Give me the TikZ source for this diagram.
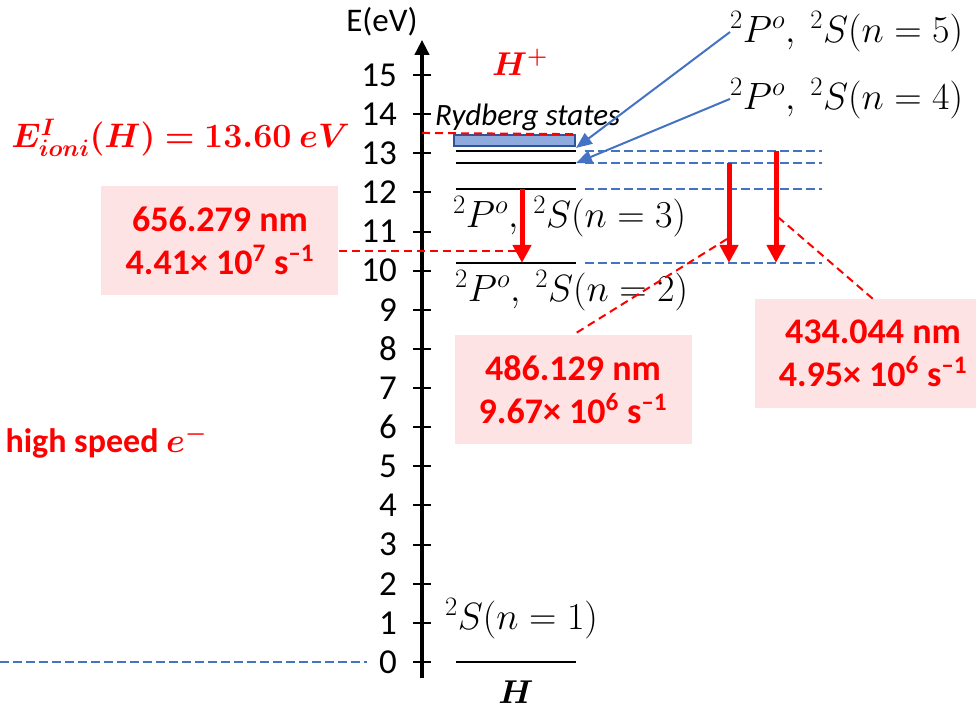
\RequirePackage{fix-cm}
\documentclass[tikz,border=0pt]{standalone}
\usepackage{fontspec}
\setmainfont{Carlito}
\usepackage{amsmath}
\usepackage{bm}
\usetikzlibrary{arrows.meta, positioning, calc}

\definecolor{levelblue}{HTML}{4472C4}
\definecolor{rydfill}{HTML}{8FAADC}
\definecolor{ryddraw}{HTML}{2F5597}
\definecolor{ratepink}{HTML}{FDE3E3}

\begin{document}
\begin{tikzpicture}[
    x=1pt, y=39.13pt,
    % Define styles for the energy diagram
    levelline/.style={black, line width=1.6pt},
    bluedash/.style={draw=levelblue, line width=2.2pt, dash pattern=on 9pt off 4pt},
    reddash/.style={draw=red, line width=2pt, dash pattern=on 8pt off 5pt},
    emission/.style={draw=red, line width=5pt, -{Triangle[width=18pt,length=18pt]}},
    pointer/.style={draw=levelblue, line width=2pt, -{Triangle[width=13pt,length=16pt]}},
    ratebox/.style={rectangle, fill=ratepink, text=red, font=\fontsize{36}{43}\selectfont\bfseries, align=center, minimum width=237pt, minimum height=109pt, inner sep=0pt},
    levellabel/.style={font=\fontsize{38}{44}\selectfont, inner sep=0pt},
    ticklabel/.style={font=\fontsize{35}{40}\selectfont, anchor=east, inner sep=0pt},
]

\useasboundingbox (-422,-1.2011) rectangle (554,16.918);

% -------------------------
% Energy axis
% -------------------------
\coordinate (axisbot) at (0,-0.41);
\coordinate (axistop) at (0,15.9);
\draw[line width=4pt, -{Triangle[width=14pt,length=15pt]}] (axisbot) -- (axistop);
\foreach \e in {0,...,15} {
    \draw[line width=2pt] (-9,\e) -- (9,\e);
    \node[ticklabel] at (-25,\e) {\e};
}
\node (eaxis) [font=\fontsize{33}{40}\selectfont] at (-40,16.36) {E(eV)};

% -------------------------
% Levels of H
% -------------------------
\foreach \n/\e in {1/0, 2/10.2, 3/12.09, 4/12.75, 5/13.06} {
    \coordinate (lvl\n L) at (34,\e);
    \coordinate (lvl\n R) at (154,\e);
    \draw[levelline] (lvl\n L) -- (lvl\n R);
}
\foreach \n in {2,...,5}
    \draw[bluedash] ([xshift=9pt]lvl\n R) -- ++(237,0);

\node (ryd) [draw=ryddraw, fill=rydfill, line width=1.5pt, minimum width=121pt, minimum height=11pt, inner sep=0pt] at (92.5,13.33) {};
\draw[reddash] (0,13.52) -- (ryd.north east);

\node (rydlabel) [font=\fontsize{31}{36}\selectfont\itshape, anchor=base west, inner sep=0pt] at (13,13.72) {Rydberg states};
\node (hplus) [text=red, font=\fontsize{33}{40}\selectfont] at (98,15.33) {$\bm{H^{+}}$};

% level labels
\node (lab1) [levellabel, above right=23pt and -11pt of lvl1L] {$^{2}S(n=1)$};
\node (lab2) [levellabel, below right=7pt and -1pt of lvl2L] {$^{2}P^{o},\ ^{2}S(n=2)$};
\node (lab3) [levellabel, below right=7pt and -3pt of lvl3L] {$^{2}P^{o},\ ^{2}S(n=3)$};
\node (lab4) [levellabel, anchor=west] at (308,14.39) {$^{2}P^{o},\ ^{2}S(n=4)$};
\node (lab5) [levellabel, anchor=west] at (308,16.10) {$^{2}P^{o},\ ^{2}S(n=5)$};
\coordinate (n1mid) at ($(lvl1L)!0.5!(lvl1R)$);
\node (hatom) [font=\fontsize{33}{40}\selectfont, below=19pt of n1mid, inner sep=0pt] {$\bm{H}$};

\draw[pointer] (lab5.west) -- ([yshift=3pt]lvl5R);
\draw[pointer] (lab4.west) -- (lvl4R);

% -------------------------
% Ionization and electron
% -------------------------
\node (eion) [text=red, font=\fontsize{34}{40}\selectfont, anchor=base east, inner sep=0pt] at (-72,13.14) {$\bm{E^{I}_{ioni}(H)=13.60\ eV}$};
\node (fast) [text=red, font=\fontsize{34}{40}\selectfont\bfseries, anchor=east, inner sep=0pt] at (-215,5.62) {high speed $\bm{e^{-}}$};
\coordinate (leftend) at (-422,0);
\draw[bluedash] (leftend) -- (-55,0);

% -------------------------
% Emission lines
% -------------------------
\coordinate (hatop) at ($(lvl3L)+(66,0)$);
\coordinate (hbtop) at ($(lvl4R)+(153,0)$);
\coordinate (hgtop) at ($(lvl5R)+(200,0)$);
\draw[emission] (hatop) -- (hatop |- lvl2L);
\draw[emission] (hbtop) -- (hbtop |- lvl2L);
\draw[emission] (hgtop) -- (hgtop |- lvl2L);

\node (habox) [ratebox] at (-202,10.76) {656.279 nm\\4.41\texttimes{} 10\textsuperscript{7} s\textsuperscript{--1}};
\node (hbbox) [ratebox] at (151,6.96) {486.129 nm\\9.67\texttimes{} 10\textsuperscript{6} s\textsuperscript{--1}};
\node (hgbox) [ratebox] at (451,7.88) {434.044 nm\\4.95\texttimes{} 10\textsuperscript{6} s\textsuperscript{--1}};

\coordinate (hamid) at (100,10.5);
\coordinate (hbmid) at (305,10.81);
\coordinate (hgmid) at (356,11.37);
\draw[reddash] (habox.east |- hamid) -- (hamid);
\draw[reddash] (hbmid) -- (hbbox.north);
\draw[reddash] (hgmid) -- (hgbox.north);

\end{tikzpicture}
\end{document}
